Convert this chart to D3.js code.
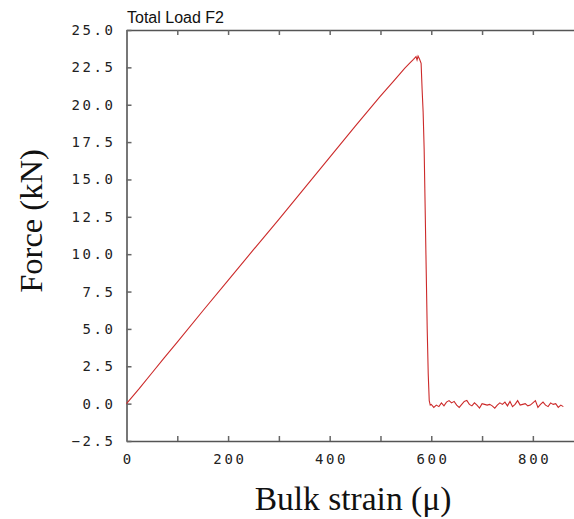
<!DOCTYPE html>
<html>
<head>
<meta charset="utf-8">
<script src="https://cdn.jsdelivr.net/npm/d3@7"></script>
<style>
  body { margin: 0; background: #fff; }
  svg { display: block; }
</style>
</head>
<body>
<script>
    // values
    var strain = [0, 25, 50, 75, 100, 150, 200, 250, 300, 350, 400, 450, 499, 525, 548, 558, 565, 570, 572, 574, 577, 580, 582, 584, 586, 588, 590, 592, 594, 596, 598];
    var force = [0.0, 1.0, 2.05, 3.1, 4.12, 6.2, 8.25, 10.3, 12.33, 14.4, 16.48, 18.55, 20.54, 21.55, 22.45, 22.8, 23.04, 23.22, 23.0, 23.26, 23.04, 22.77, 21.0, 19.5, 17.0, 13.0, 9.0, 5.0, 2.0, 0.2, -0.1];

    // post-failure noise, strain 600..860 every 5
    var noiseStart = 600;
    var noiseStep = 5;
    var noise = [-0.05, -0.25, -0.1, -0.2, 0.05, -0.15, 0.1, 0.2, 0.05, 0.15, -0.1, -0.25, -0.05, 0.15, 0.22, -0.05, -0.15, 0.05, -0.1, -0.3, 0.0, -0.05, -0.1, -0.05, -0.15, -0.3, -0.1, 0.05, -0.05, 0.1, -0.15, 0.15, -0.2, -0.05, 0.2, -0.1, -0.05, 0.0, -0.15, -0.1, 0.05, 0.2, -0.25, -0.05, 0.1, -0.1, -0.2, 0.05, -0.05, 0.0, -0.25, -0.1, -0.2];

    var xTicks = [0, 100, 200, 300, 400, 500, 600, 700, 800];
    var yTicks = [-2.5, 0, 2.5, 5, 7.5, 10, 12.5, 15, 17.5, 20, 22.5, 25];

    var width = 574;
    var height = 519;
    var plotLeft = 126.5, plotRight = 574, plotTop = 30, plotBottom = 441;

    var values = strain.map((s, i) => [s, force[i]]);
    noise.forEach((f, i) => values.push([noiseStart + i * noiseStep, f]));

    var svg = d3.select('body')
        .append('svg')
        .attr('width', width)
        .attr('height', height);

    var xScale = d3.scaleLinear()
        .domain([0, 881])
        .range([plotLeft, plotRight]);

    var yScale = d3.scaleLinear()
        .domain([-2.5, 25])
        .range([plotBottom, plotTop]);

    var tickFont = (sel) => {
        sel.selectAll('text')
            .attr('font-family', 'DejaVu Sans Mono, monospace')
            .attr('font-size', 14)
            .attr('letter-spacing', 2.6)
            .attr('fill', '#222');
        sel.selectAll('line').attr('stroke', '#666').attr('stroke-width', 1.5);
        sel.select('.domain').attr('stroke', '#555').attr('stroke-width', 1.5);
    };

    // axes, ticks inside
    svg.append('g')
        .attr('transform', 'translate(0,' + plotBottom + ')')
        .call(d3.axisBottom(xScale)
            .tickValues(xTicks)
            .tickSizeInner(-5)
            .tickSizeOuter(0)
            .tickPadding(13)
            .tickFormat(d => d % 200 == 0 ? d : ''))
        .call(tickFont)
        .selectAll('text').attr('dx', 1.3);

    svg.append('g')
        .attr('transform', 'translate(0,' + plotTop + ')')
        .call(d3.axisTop(xScale)
            .tickValues(xTicks)
            .tickSizeInner(-5)
            .tickSizeOuter(0)
            .tickFormat(''))
        .call(tickFont);

    svg.append('g')
        .attr('transform', 'translate(' + plotLeft + ',0)')
        .call(d3.axisLeft(yScale)
            .tickValues(yTicks)
            .tickSizeInner(-5)
            .tickSizeOuter(0)
            .tickPadding(11)
            .tickFormat(d3.format('.1f')))
        .call(tickFont)
        .call(g => g.select('.domain').attr('stroke', '#777').attr('stroke-width', 2));

    // the curve
    var line = d3.line()
        .x(d => xScale(d[0]))
        .y(d => yScale(d[1]));

    svg.append('path')
        .datum(values)
        .attr('d', line)
        .attr('fill', 'none')
        .attr('stroke', '#cc2a2a')
        .attr('stroke-width', 1.1);

    // titles
    svg.append('text')
        .attr('x', 127)
        .attr('y', 23)
        .attr('font-family', 'Liberation Sans, Arial, sans-serif')
        .attr('font-size', 16)
        .attr('fill', '#111')
        .text('Total Load F2');

    svg.append('text')
        .attr('x', 353)
        .attr('y', 510)
        .attr('text-anchor', 'middle')
        .attr('font-family', 'Liberation Serif, Times New Roman, serif')
        .attr('font-size', 33.5)
        .attr('fill', '#111')
        .text('Bulk strain (μ)');

    svg.append('text')
        .attr('transform', 'translate(42,221) rotate(-90)')
        .attr('text-anchor', 'middle')
        .attr('font-family', 'Liberation Serif, Times New Roman, serif')
        .attr('font-size', 32.5)
        .attr('fill', '#111')
        .text('Force (kN)');
</script>
</body>
</html>
